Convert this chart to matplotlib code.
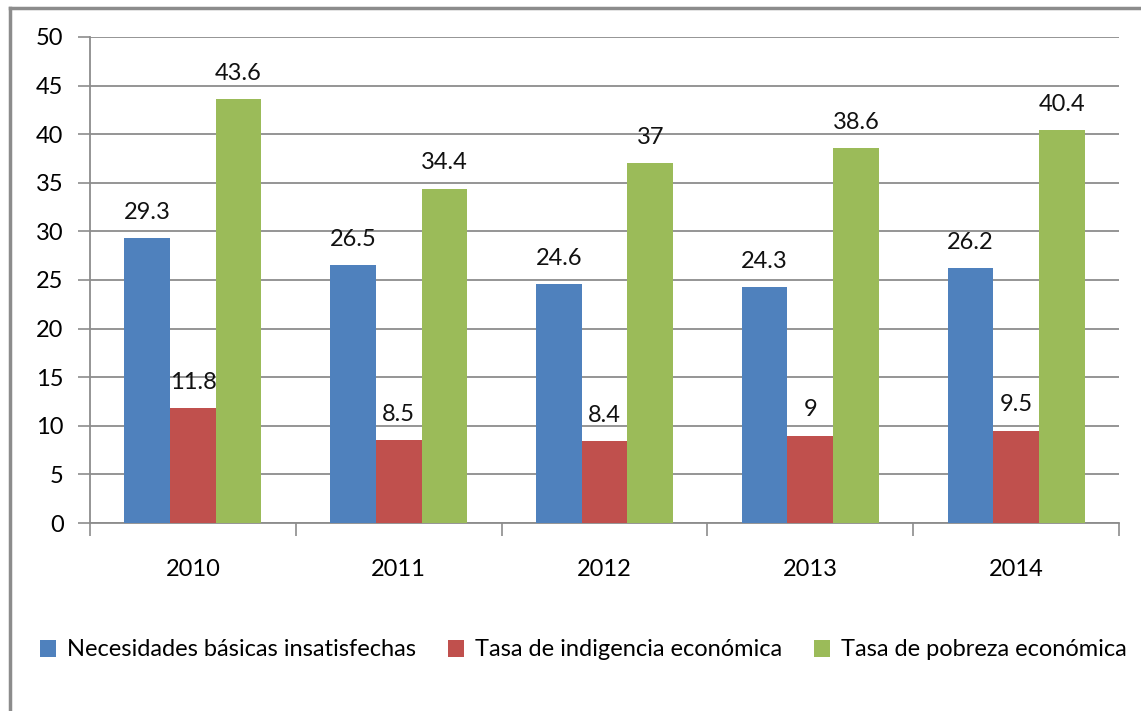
import matplotlib.pyplot as plt
from matplotlib.lines import Line2D
import numpy as np

years = ['2010', '2011', '2012', '2013', '2014']
nbi = [29.3, 26.5, 24.6, 24.3, 26.2]
indigencia = [11.8, 8.5, 8.4, 9, 9.5]
pobreza = [43.6, 34.4, 37, 38.6, 40.4]
series_names = ['Necesidades básicas insatisfechas',
                'Tasa de indigencia económica',
                'Tasa de pobreza económica']
colors = ['#4F81BD', '#C0504D', '#9BBB59']

plt.rcParams['font.family'] = ['Lato', 'DejaVu Sans']

W, H = 1141, 711
fig = plt.figure(figsize=(W / 100, H / 100), dpi=100)
ax = fig.add_axes([90 / W, 1 - 523 / H, (1119 - 90) / W, (523 - 37) / H])

x = np.arange(len(years))
bw = 0.222
for i, (vals, name, c) in enumerate(zip([nbi, indigencia, pobreza], series_names, colors)):
    pos = x + (i - 1) * bw
    ax.bar(pos, vals, bw, color=c, label=name, zorder=3)
    for p, v in zip(pos, vals):
        ax.annotate(f'{v:g}', (p, v), xytext=(0, 11), textcoords='offset points',
                    ha='center', va='bottom', fontsize=17, color='#111111')

ax.set_xlim(-0.5, len(years) - 0.5)
ax.set_ylim(0, 50)
ax.set_yticks(range(0, 51, 5))
ax.yaxis.grid(True, color='#8c8c8c', linewidth=1.3, zorder=0)
ax.tick_params(axis='y', length=9, width=1.2, color='#8c8c8c', labelsize=17, pad=10)

ax.set_xticks(np.arange(-0.5, len(years), 1))
ax.set_xticklabels([])
ax.set_xticks(x, minor=True)
ax.set_xticklabels(years, minor=True, fontsize=17)
ax.tick_params(axis='x', which='major', length=9, width=1.2, color='#8c8c8c', direction='out')
ax.tick_params(axis='x', which='minor', length=0, pad=26)

for s in ['top', 'right']:
    ax.spines[s].set_visible(False)
for s in ['left', 'bottom']:
    ax.spines[s].set_color('#8c8c8c')
    ax.spines[s].set_linewidth(1.3)

fig.legend(loc='center', bbox_to_anchor=(0.511, 1 - 650 / H), ncol=3, frameon=False,
           fontsize=17, handlelength=0.7, handleheight=0.7, handletextpad=0.45,
           columnspacing=1.35, borderpad=0.2)

# outer chart frame
fig.add_artist(Line2D([10 / W, 10 / W], [0, 1 - 8 / H], color='#8c8c8c', linewidth=2.5))
fig.add_artist(Line2D([10 / W, 1], [1 - 8 / H, 1 - 8 / H], color='#8c8c8c', linewidth=2.5))

fig.savefig('out.png', dpi=100)
